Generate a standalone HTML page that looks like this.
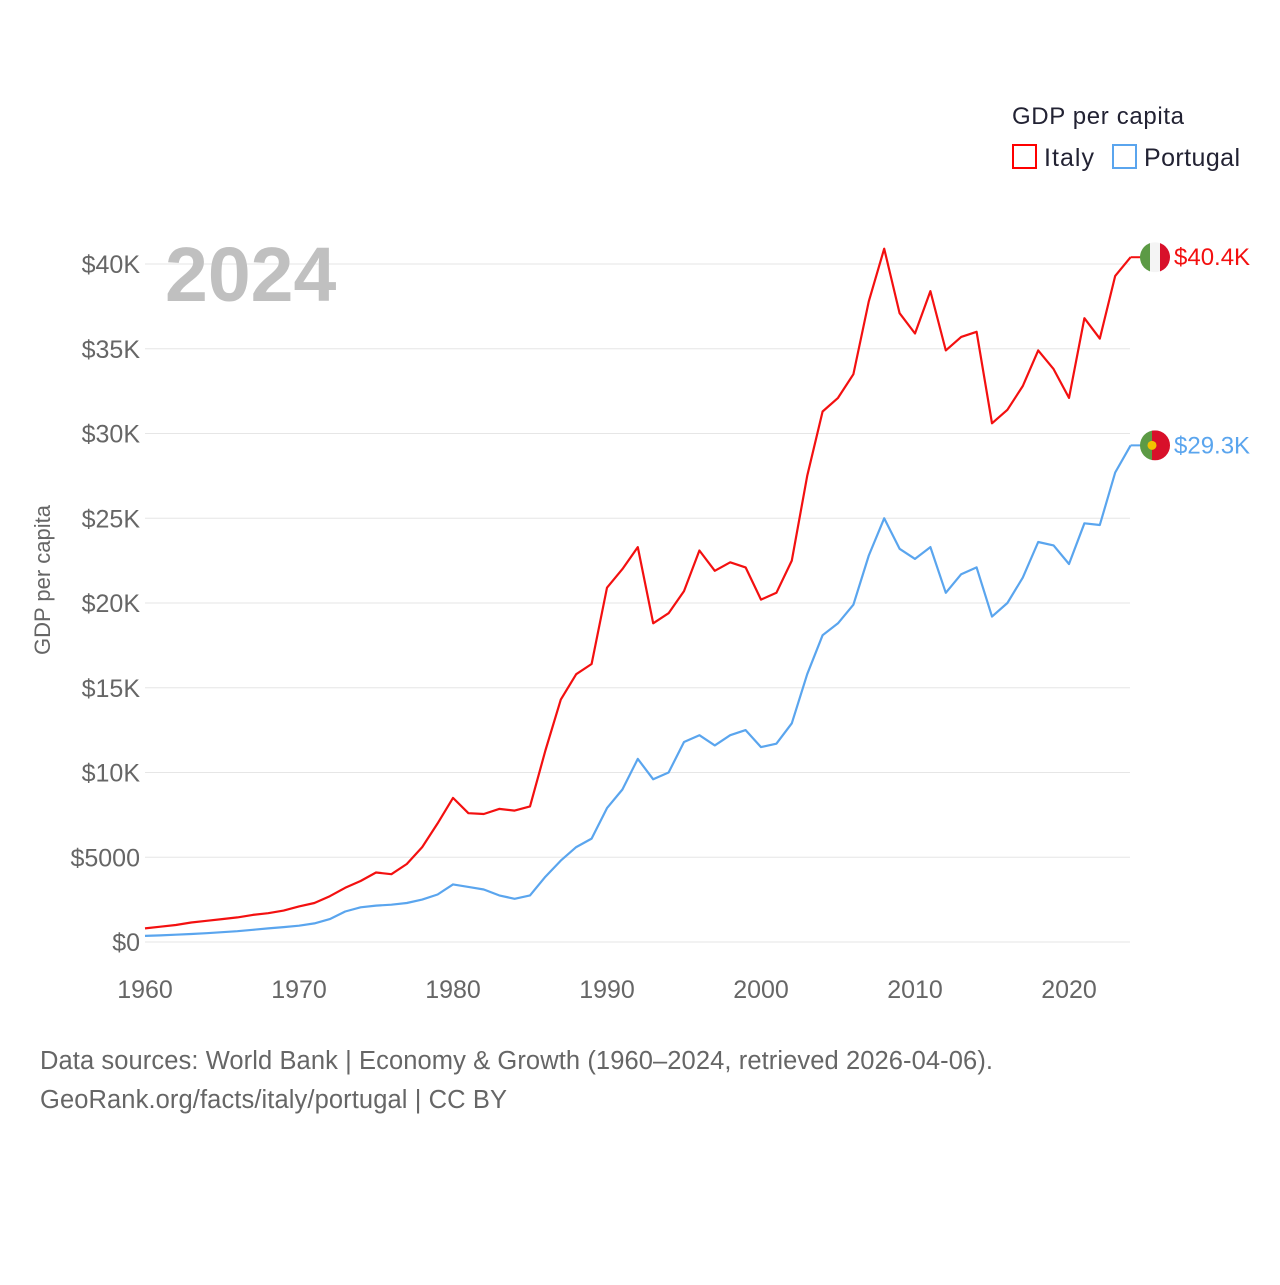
<!DOCTYPE html>
<html><head><meta charset="utf-8"><style>
body{margin:0;background:#fff;}
svg text{font-family:"Liberation Sans",sans-serif;}
</style></head><body>
<svg id="chart" width="1280" height="1280" viewBox="0 0 1280 1280">
<g id="grid"></g>
<g id="ticks"></g>
<text x="165" y="301" font-size="77" font-weight="bold" fill="#c0c0c0">2024</text>
<text transform="translate(50,580) rotate(-90)" text-anchor="middle" font-size="22" fill="#666">GDP per capita</text>
<g>
<text x="1012" y="124" font-size="24" fill="#223" textLength="172">GDP per capita</text>
<g><rect x="1013" y="145" width="23" height="23" fill="none" stroke="#f00" stroke-width="2"/><text x="1044" y="166" font-size="25" fill="#223" textLength="50">Italy</text></g>
<g><rect x="1113" y="145" width="23" height="23" fill="none" stroke="#5aa5ee" stroke-width="2"/><text x="1144" y="166" font-size="25" fill="#223" textLength="96">Portugal</text></g>
</g>
<g id="series"></g>
<text x="40" y="1069" font-size="25.5" fill="#666" textLength="953">Data sources: World Bank | Economy &amp; Growth (1960–2024, retrieved 2026-04-06).</text>
<text x="40" y="1108" font-size="25.5" fill="#666" textLength="467">GeoRank.org/facts/italy/portugal | CC BY</text>
</svg>
<script>
const years=[];for(let y=1960;y<=2024;y++)years.push(y);
const italy=[800,900,1000,1150,1250,1350,1450,1600,1700,1850,2100,2300,2700,3200,3600,4100,4000,4600,5600,7000,8500,7600,7550,7850,7750,8000,11300,14300,15800,16400,20900,22000,23300,18800,19400,20700,23100,21900,22400,22100,20200,20600,22500,27500,31300,32100,33500,37800,40900,37100,35900,38400,34900,35700,36000,30600,31400,32800,34900,33800,32100,36800,35600,39300,40400];
const portugal=[360,390,430,470,520,580,640,720,800,880,960,1100,1350,1800,2050,2150,2200,2300,2500,2800,3400,3250,3100,2750,2550,2750,3850,4800,5600,6100,7900,9000,10800,9600,10000,11800,12200,11600,12200,12500,11500,11700,12900,15800,18100,18800,19900,22800,25000,23200,22600,23300,20600,21700,22100,19200,20000,21500,23600,23400,22300,24700,24600,27700,29300];
const yTicks=[0,5000,10000,15000,20000,25000,30000,35000,40000];
const yTickLabels=["$0","$5000","$10K","$15K","$20K","$25K","$30K","$35K","$40K"];
const xTicks=[1960,1970,1980,1990,2000,2010,2020];
const endLabels=["$40.4K","$29.3K"];
const NS="http://www.w3.org/2000/svg";
const X=y=>145+(y-1960)*15.4;
const Y=v=>942-v/40000*678;
function mk(t,a,p){const e=document.createElementNS(NS,t);for(const k in a)e.setAttribute(k,a[k]);p.appendChild(e);return e;}
const grid=document.getElementById('grid'),ticks=document.getElementById('ticks'),ser=document.getElementById('series');
yTicks.forEach((v,i)=>{
 const l=mk('line',{x1:145,x2:1130,y1:Y(v),y2:Y(v),stroke:'#e6e6e6','stroke-width':1},grid);
 
 
 const t=mk('text',{x:140,y:Y(v)+9,'text-anchor':'end','font-size':25,fill:'#666'},ticks);
 t.textContent=yTickLabels[i];
 
 
});
xTicks.forEach(v=>{
 const t=mk('text',{x:X(v),y:998,'text-anchor':'middle','font-size':25,fill:'#666'},ticks);
 t.textContent=v;
 
 
});
function line(data,color,name,lab,flag){
 const d=data.map((v,i)=>(i?'L':'M')+X(years[i]).toFixed(1)+','+Y(v).toFixed(1)).join('');
 const p=mk('path',{d:d,fill:'none',stroke:color,'stroke-width':2.2,'stroke-linejoin':'round'},ser);
 
 
 const last=data[data.length-1],cx=1155,cy=Y(last);
 mk('line',{x1:X(2024),x2:cx-14,y1:cy,y2:cy,stroke:color,'stroke-width':2},ser);
 const g=mk('g',{},ser);
 
 
 const id='c'+name;
 const cp=mk('clipPath',{id:id},g);mk('circle',{cx:cx,cy:cy,r:15},cp);
 const fg=mk('g',{'clip-path':'url(#'+id+')'},g);
 if(flag==='it'){mk('rect',{x:cx-15,y:cy-15,width:10,height:30,fill:'#5c9a45'},fg);mk('rect',{x:cx-5,y:cy-15,width:10,height:30,fill:'#f4f4f4'},fg);mk('rect',{x:cx+5,y:cy-15,width:10,height:30,fill:'#d8102a'},fg);}
 else{mk('rect',{x:cx-15,y:cy-15,width:12,height:30,fill:'#5c9a45'},fg);mk('rect',{x:cx-3,y:cy-15,width:18,height:30,fill:'#d8102a'},fg);mk('circle',{cx:cx-3,cy:cy,r:4.5,fill:'#f2c200'},fg);}
 const t=mk('text',{x:1174,y:cy+8,'font-size':24,fill:color},ser);
 t.textContent=lab;
 
 
}
line(italy,'#f31010','italy',endLabels[0],'it');
line(portugal,'#5aa5ee','portugal',endLabels[1],'pt');
</script>
</body></html>
